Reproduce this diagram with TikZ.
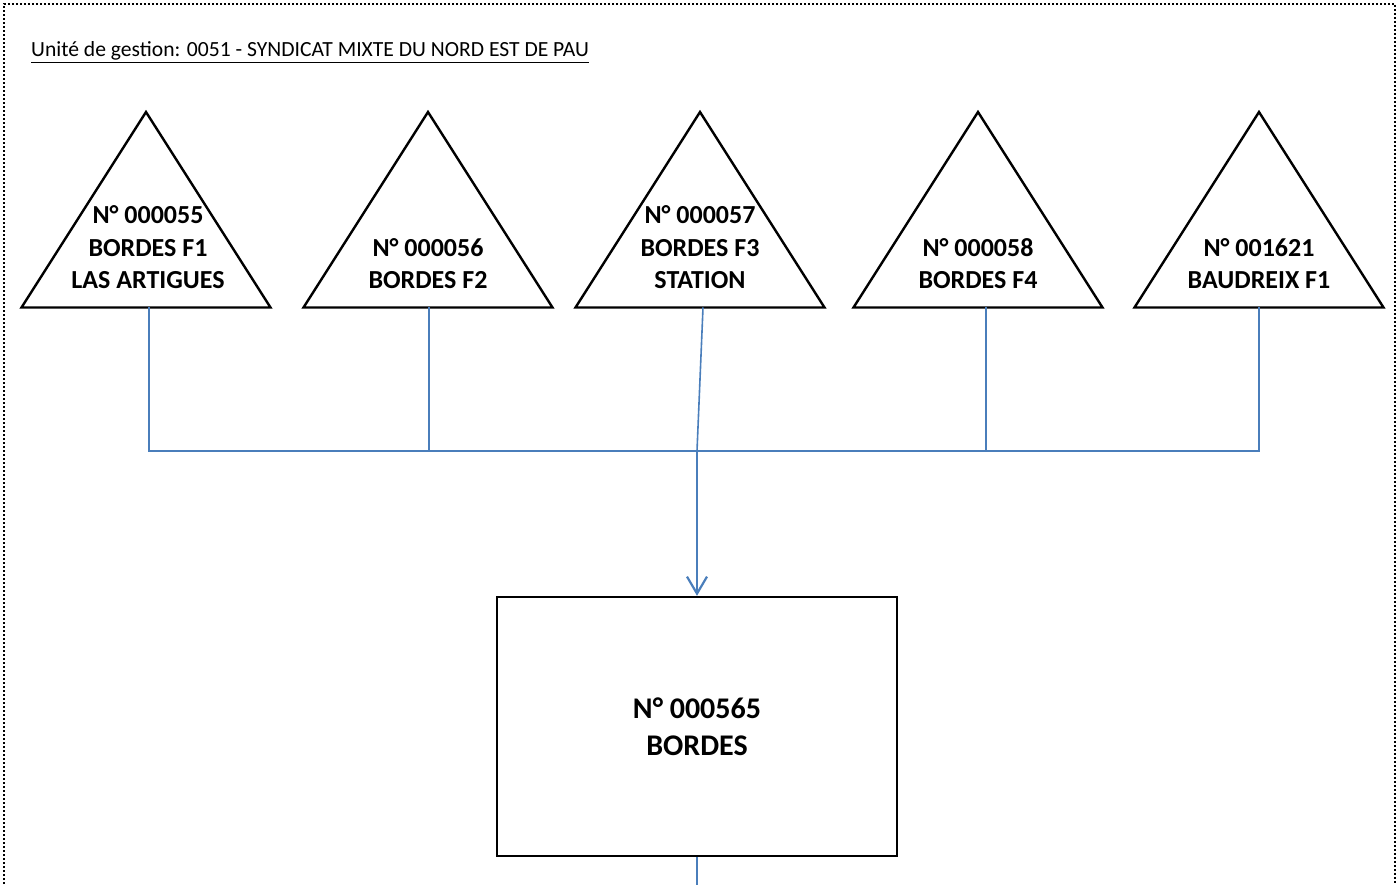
\documentclass[tikz,border=0pt]{standalone}
\usepackage{fontspec}
\setmainfont{Carlito}
\usetikzlibrary{arrows.meta}
\definecolor{conblue}{HTML}{4A7EBB}
\tikzset{
  tri/.style={draw=black, line width=2.4pt, line join=miter},
  trilabel/.style={anchor=south, inner sep=0pt, align=center, font=\fontsize{26}{32.5}\selectfont\bfseries},
  conn/.style={draw=conblue, line width=1.6pt},
  mainbox/.style={draw=black, line width=2.4pt, minimum width=400pt, minimum height=259pt, align=center, font=\fontsize{30}{37}\selectfont\bfseries},
}
\begin{document}
\begin{tikzpicture}[x=1pt,y=-1pt]
\useasboundingbox (0,0) rectangle (1398,885);
% dotted frame
\draw[line width=2pt, dash pattern=on 2pt off 2pt] (4,884) -- (4,4) -- (1395,4) -- (1395,884);
% title
\node[anchor=base west, inner sep=0pt, font=\fontsize{21.6}{26}\selectfont] (title) at (31,57) {\underline{Unité de gestion: 0051 - SYNDICAT MIXTE DU NORD EST DE PAU}};
% triangles
\foreach \cx/\i in {146/1,428/2,700/3,978/4,1259/5}{
  \draw[tri] (\cx-124.5,307.5) -- (\cx,112) -- (\cx+124.5,307.5) -- cycle;
}
\coordinate (b1) at (149,307.5);
\coordinate (b2) at (429,307.5);
\coordinate (b3) at (703,307.5);
\coordinate (b4) at (986,307.5);
\coordinate (b5) at (1259,307.5);
\node[trilabel] (t1) at (148,289) {N° 000055\\BORDES F1\\LAS ARTIGUES};
\node[trilabel] (t2) at (428,289) {N° 000056\\BORDES F2};
\node[trilabel] (t3) at (700,289) {N° 000057\\BORDES F3\\STATION};
\node[trilabel] (t4) at (978,289) {N° 000058\\BORDES F4};
\node[trilabel] (t5) at (1259,289) {N° 001621\\BAUDREIX F1};
% box
\node[mainbox] (box) at (697,726.5) {N° 000565\\BORDES};
\coordinate (j) at (697,451);
\coordinate (bottom) at (697,885);
% connectors
\draw[conn] (b1) |- (j);
\draw[conn] (b2) |- (j);
\draw[conn] (b3) -- (j);
\draw[conn] (b4) |- (j);
\draw[conn] (b5) |- (j);
\draw[draw=conblue, line width=2.2pt, -{Straight Barb[length=17pt,width=20pt,line width=2.2pt]}] (j) -- (box.north);
\draw[conn] (box.south) -- (bottom);
\end{tikzpicture}
\end{document}
